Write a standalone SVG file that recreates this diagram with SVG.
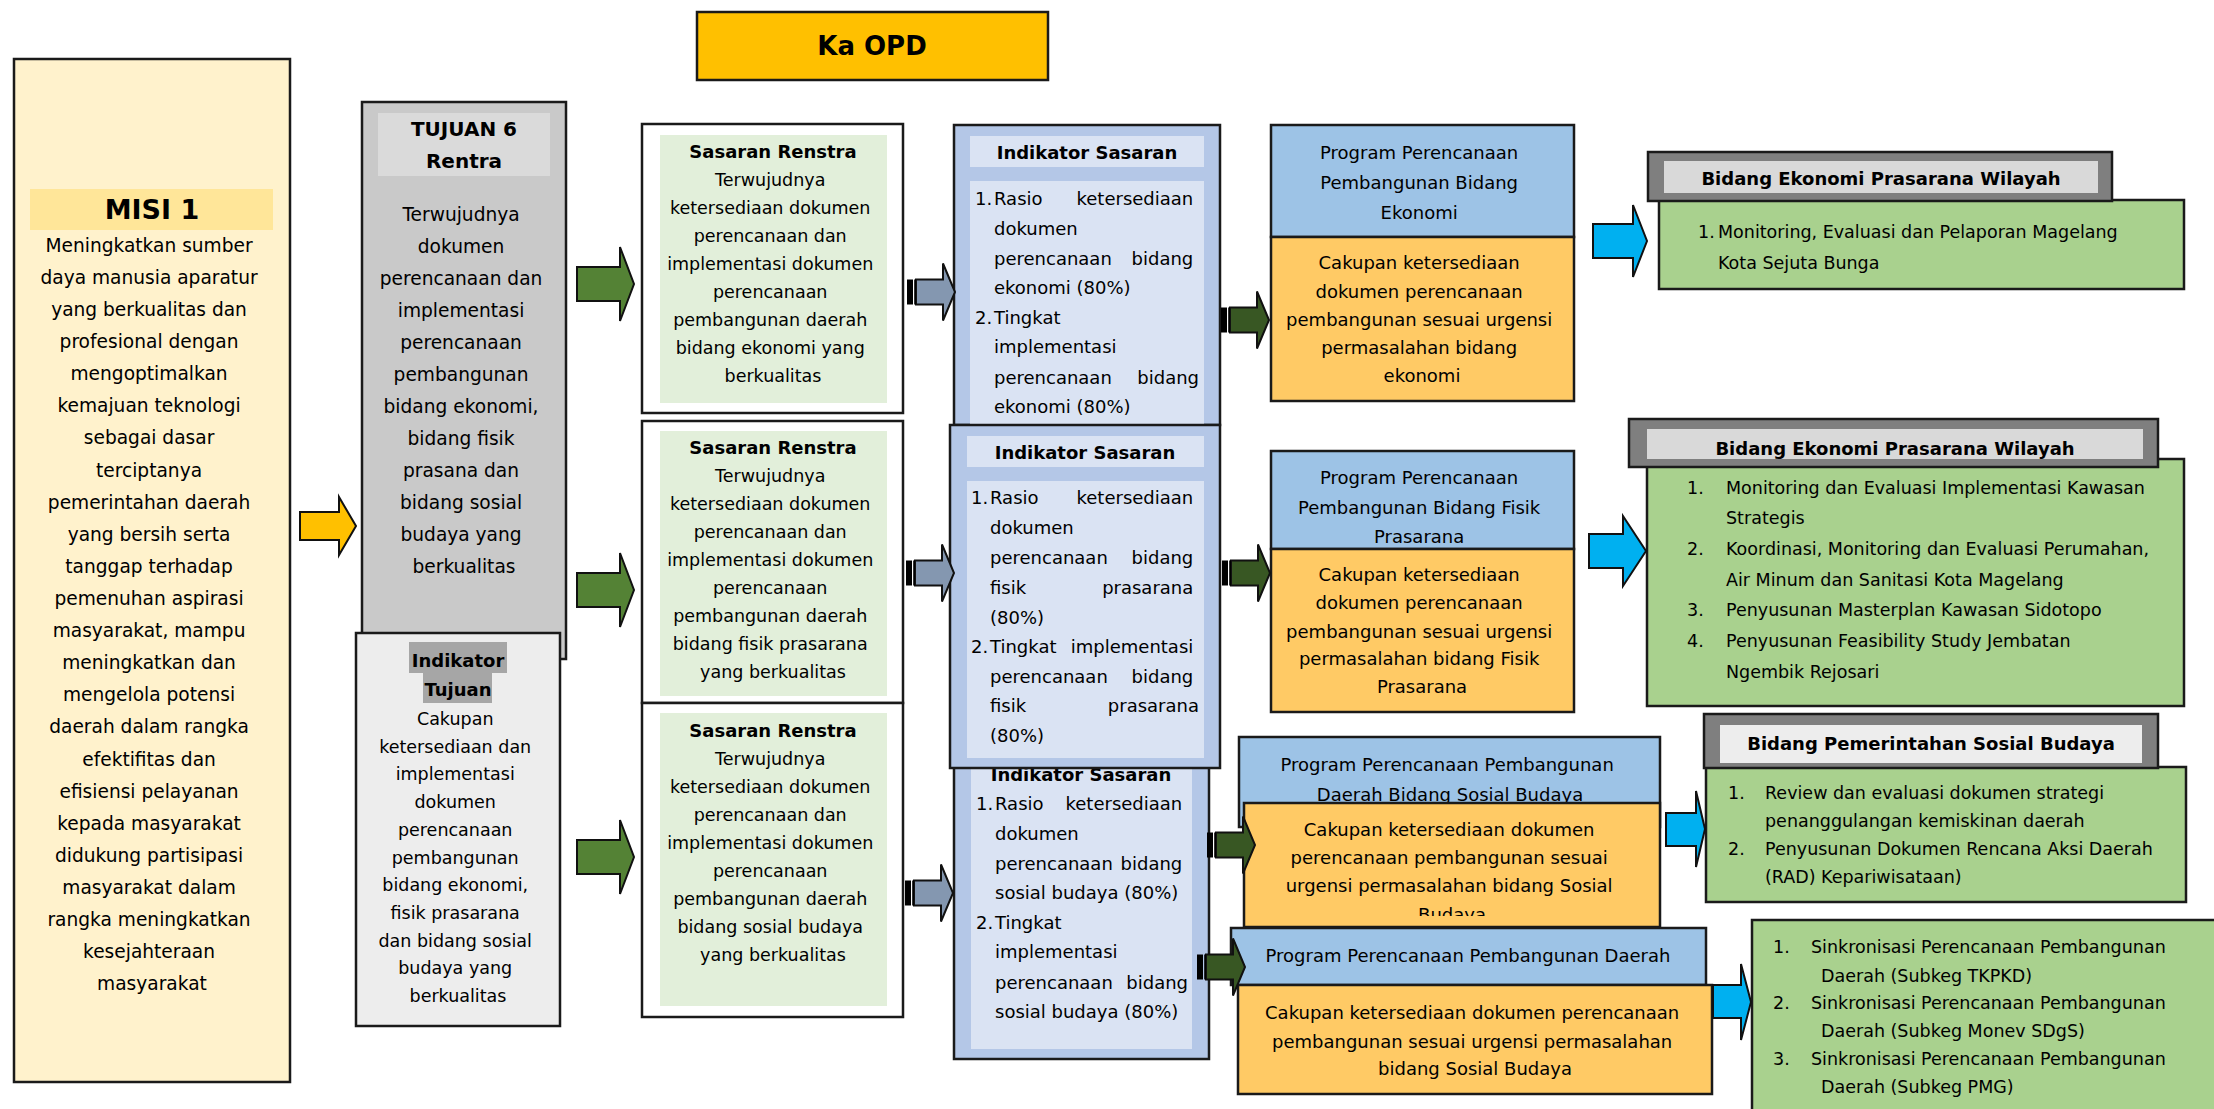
<svg xmlns="http://www.w3.org/2000/svg" width="2214" height="1109" viewBox="0 0 2214 1109">
<defs>
<style>
text{font-family:"DejaVu Sans","Liberation Sans",sans-serif;fill:#000}
.bx{stroke:#1a1a1a;stroke-width:2.5}
.c{text-anchor:middle}
.e{text-anchor:end}
.b{font-weight:bold}
.s175{font-size:17.5px}
.s18{font-size:18px}
.s185{font-size:18.6px}
.arr{stroke:#111;stroke-width:2}
</style>
<g id="bigArrow"><polygon points="0,-17 43,-17 43,-37 57,0 43,37 43,17 0,17"/></g>
<g id="stripeArrow">
<polygon points="9,-12.5 36,-12.5 36,-28.5 48,0 36,28.5 36,12.5 9,12.5"/>
<rect x="0" y="-12.5" width="6" height="25" fill="#000" stroke="none"/>
<rect x="7.2" y="-12.5" width="1.8" height="25" fill="#000" stroke="none"/>
</g>
<clipPath id="clipP3"><rect x="1244" y="803" width="416" height="113"/></clipPath>
</defs>
<rect width="2214" height="1109" fill="#fff"/>

<g id="ka-opd">
<rect class="bx" x="697" y="12" width="351" height="68" fill="#FFC000"/>
<text class="c b" x="872" y="55" font-size="26">Ka OPD</text>
</g>

<g id="misi">
<rect class="bx" x="14" y="59" width="276" height="1023" fill="#FFF2CC"/>
<rect x="30" y="189" width="243" height="41" fill="#FFE699"/>
<text class="c b" x="152" y="219" font-size="27">MISI 1</text>
<text class="c s185">
<tspan x="152" y="252">Meningkatkan sumber</tspan>
<tspan x="152" y="284">daya manusia aparatur</tspan>
<tspan x="152" y="316">yang berkualitas dan</tspan>
<tspan x="152" y="348">profesional dengan</tspan>
<tspan x="152" y="380">mengoptimalkan</tspan>
<tspan x="152" y="412">kemajuan teknologi</tspan>
<tspan x="152" y="444">sebagai dasar</tspan>
<tspan x="152" y="477">terciptanya</tspan>
<tspan x="152" y="509">pemerintahan daerah</tspan>
<tspan x="152" y="541">yang bersih serta</tspan>
<tspan x="152" y="573">tanggap terhadap</tspan>
<tspan x="152" y="605">pemenuhan aspirasi</tspan>
<tspan x="152" y="637">masyarakat, mampu</tspan>
<tspan x="152" y="669">meningkatkan dan</tspan>
<tspan x="152" y="701">mengelola potensi</tspan>
<tspan x="152" y="733">daerah dalam rangka</tspan>
<tspan x="152" y="766">efektifitas dan</tspan>
<tspan x="152" y="798">efisiensi pelayanan</tspan>
<tspan x="152" y="830">kepada masyarakat</tspan>
<tspan x="152" y="862">didukung partisipasi</tspan>
<tspan x="152" y="894">masyarakat dalam</tspan>
<tspan x="152" y="926">rangka meningkatkan</tspan>
<tspan x="152" y="958">kesejahteraan</tspan>
<tspan x="152" y="990">masyarakat</tspan>
</text>
</g>

<g id="tujuan">
<rect class="bx" x="362" y="102" width="204" height="557" fill="#C9C9C9"/>
<rect x="378" y="113" width="172" height="63" fill="#DADADA"/>
<text class="c b" x="464" y="136" font-size="20">TUJUAN 6</text>
<text class="c b" x="464" y="168" font-size="20">Rentra</text>
<text class="c s185">
<tspan x="464" y="221">Terwujudnya</tspan>
<tspan x="464" y="253">dokumen</tspan>
<tspan x="464" y="285">perencanaan dan</tspan>
<tspan x="464" y="317">implementasi</tspan>
<tspan x="464" y="349">perencanaan</tspan>
<tspan x="464" y="381">pembangunan</tspan>
<tspan x="464" y="413">bidang ekonomi,</tspan>
<tspan x="464" y="445">bidang fisik</tspan>
<tspan x="464" y="477">prasana dan</tspan>
<tspan x="464" y="509">bidang sosial</tspan>
<tspan x="464" y="541">budaya yang</tspan>
<tspan x="464" y="573">berkualitas</tspan>
</text>
</g>

<g id="indikator-tujuan">
<rect class="bx" x="356" y="633" width="204" height="393" fill="#EDEDED"/>
<rect x="409" y="642" width="98" height="31" fill="#A6A6A6"/>
<rect x="423" y="673" width="69" height="30" fill="#A6A6A6"/>
<text class="c b s18" x="458" y="667">Indikator</text>
<text class="c b s18" x="458" y="696">Tujuan</text>
<text class="c s175">
<tspan x="458" y="725">Cakupan</tspan>
<tspan x="458" y="753">ketersediaan dan</tspan>
<tspan x="458" y="780">implementasi</tspan>
<tspan x="458" y="808">dokumen</tspan>
<tspan x="458" y="836">perencanaan</tspan>
<tspan x="458" y="864">pembangunan</tspan>
<tspan x="458" y="891">bidang ekonomi,</tspan>
<tspan x="458" y="919">fisik prasarana</tspan>
<tspan x="458" y="947">dan bidang sosial</tspan>
<tspan x="458" y="974">budaya yang</tspan>
<tspan x="458" y="1002">berkualitas</tspan>
</text>
</g>

<g id="sasaran-1">
<rect class="bx" x="642" y="124" width="261" height="289" fill="#fff"/>
<rect x="660" y="135" width="227" height="268" fill="#E2EFDA"/>
<text class="c b s18" x="773" y="158">Sasaran Renstra</text>
<text class="c s175">
<tspan x="773" y="186">Terwujudnya</tspan>
<tspan x="773" y="214">ketersediaan dokumen</tspan>
<tspan x="773" y="242">perencanaan dan</tspan>
<tspan x="773" y="270">implementasi dokumen</tspan>
<tspan x="773" y="298">perencanaan</tspan>
<tspan x="773" y="326">pembangunan daerah</tspan>
<tspan x="773" y="354">bidang ekonomi  yang</tspan>
<tspan x="773" y="382">berkualitas</tspan>
</text>
</g>

<g id="sasaran-2">
<rect class="bx" x="642" y="421" width="261" height="282" fill="#fff"/>
<rect x="660" y="431" width="227" height="265" fill="#E2EFDA"/>
<text class="c b s18" x="773" y="454">Sasaran Renstra</text>
<text class="c s175">
<tspan x="773" y="482">Terwujudnya</tspan>
<tspan x="773" y="510">ketersediaan dokumen</tspan>
<tspan x="773" y="538">perencanaan dan</tspan>
<tspan x="773" y="566">implementasi dokumen</tspan>
<tspan x="773" y="594">perencanaan</tspan>
<tspan x="773" y="622">pembangunan daerah</tspan>
<tspan x="773" y="650">bidang fisik prasarana</tspan>
<tspan x="773" y="678">yang berkualitas</tspan>
</text>
</g>

<g id="sasaran-3">
<rect class="bx" x="642" y="703" width="261" height="314" fill="#fff"/>
<rect x="660" y="713" width="227" height="293" fill="#E2EFDA"/>
<text class="c b s18" x="773" y="737">Sasaran Renstra</text>
<text class="c s175">
<tspan x="773" y="765">Terwujudnya</tspan>
<tspan x="773" y="793">ketersediaan dokumen</tspan>
<tspan x="773" y="821">perencanaan dan</tspan>
<tspan x="773" y="849">implementasi dokumen</tspan>
<tspan x="773" y="877">perencanaan</tspan>
<tspan x="773" y="905">pembangunan daerah</tspan>
<tspan x="773" y="933">bidang sosial budaya</tspan>
<tspan x="773" y="961">yang berkualitas</tspan>
</text>
</g>

<g id="indikator-sasaran-1">
<rect class="bx" x="954" y="125" width="266" height="300" fill="#B4C7E7"/>
<rect x="970" y="136" width="234" height="31" fill="#DAE3F3"/>
<rect x="970" y="181" width="234" height="244" fill="#DAE3F3"/>
<text class="c b s18" x="1087" y="159">Indikator Sasaran</text>
<text class="s18">
<tspan x="975" y="205">1.</tspan><tspan x="994" y="205">Rasio</tspan>
<tspan x="994" y="235">dokumen</tspan>
<tspan x="994" y="265">perencanaan</tspan>
<tspan x="994" y="294">ekonomi (80%)</tspan>
<tspan x="975" y="324">2.</tspan><tspan x="994" y="324">Tingkat</tspan>
<tspan x="994" y="353">implementasi</tspan>
<tspan x="994" y="384">perencanaan</tspan>
<tspan x="994" y="413">ekonomi (80%)</tspan>
</text>
<text class="s18 e">
<tspan x="1199" y="205">ketersediaan</tspan>
<tspan x="1199" y="265">bidang</tspan>
<tspan x="1199" y="384">bidang</tspan>
</text>
</g>

<g id="indikator-sasaran-3">
<rect class="bx" x="954" y="760" width="255" height="299" fill="#B4C7E7"/>
<rect x="971" y="764" width="221" height="285" fill="#DAE3F3"/>
<text class="c b s18" x="1081" y="781">Indikator Sasaran</text>
<text class="s18">
<tspan x="976" y="810">1.</tspan><tspan x="995" y="810">Rasio</tspan>
<tspan x="995" y="840">dokumen</tspan>
<tspan x="995" y="870">perencanaan</tspan>
<tspan x="995" y="899">sosial budaya (80%)</tspan>
<tspan x="976" y="929">2.</tspan><tspan x="995" y="929">Tingkat</tspan>
<tspan x="995" y="958">implementasi</tspan>
<tspan x="995" y="989">perencanaan</tspan>
<tspan x="995" y="1018">sosial budaya (80%)</tspan>
</text>
<text class="s18 e">
<tspan x="1188" y="810">ketersediaan</tspan>
<tspan x="1188" y="870">bidang</tspan>
<tspan x="1188" y="989">bidang</tspan>
</text>
</g>

<g id="indikator-sasaran-2">
<rect class="bx" x="950" y="425" width="270" height="343" fill="#B4C7E7"/>
<rect x="967" y="436" width="237" height="31" fill="#DAE3F3"/>
<rect x="967" y="481" width="237" height="277" fill="#DAE3F3"/>
<text class="c b s18" x="1085" y="459">Indikator Sasaran</text>
<text class="s18">
<tspan x="971" y="504">1.</tspan><tspan x="990" y="504">Rasio</tspan>
<tspan x="990" y="534">dokumen</tspan>
<tspan x="990" y="564">perencanaan</tspan>
<tspan x="990" y="594">fisik</tspan>
<tspan x="990" y="624">(80%)</tspan>
<tspan x="971" y="653">2.</tspan><tspan x="990" y="653">Tingkat</tspan>
<tspan x="990" y="683">perencanaan</tspan>
<tspan x="990" y="712">fisik</tspan>
<tspan x="990" y="742">(80%)</tspan>
</text>
<text class="s18 e">
<tspan x="1199" y="504">ketersediaan</tspan>
<tspan x="1199" y="564">bidang</tspan>
<tspan x="1199" y="594">prasarana</tspan>
<tspan x="1199" y="653">implementasi</tspan>
<tspan x="1199" y="683">bidang</tspan>
<tspan x="1199" y="712">prasarana</tspan>
</text>
</g>

<g id="program-1">
<rect class="bx" x="1271" y="125" width="303" height="112" fill="#9DC3E6"/>
<rect class="bx" x="1271" y="237" width="303" height="164" fill="#FFCA65"/>
<text class="c s18">
<tspan x="1422" y="159">Program Perencanaan</tspan>
<tspan x="1422" y="189">Pembangunan  Bidang</tspan>
<tspan x="1422" y="219">Ekonomi</tspan>
<tspan x="1422" y="269">Cakupan ketersediaan</tspan>
<tspan x="1422" y="298">dokumen  perencanaan</tspan>
<tspan x="1422" y="326">pembangunan sesuai urgensi</tspan>
<tspan x="1422" y="354">permasalahan  bidang</tspan>
<tspan x="1422" y="382">ekonomi</tspan>
</text>
</g>

<g id="program-2">
<rect class="bx" x="1271" y="451" width="303" height="98" fill="#9DC3E6"/>
<rect class="bx" x="1271" y="549" width="303" height="163" fill="#FFCA65"/>
<text class="c s18">
<tspan x="1422" y="484">Program Perencanaan</tspan>
<tspan x="1422" y="514">Pembangunan  Bidang Fisik</tspan>
<tspan x="1422" y="543">Prasarana</tspan>
<tspan x="1422" y="581">Cakupan ketersediaan</tspan>
<tspan x="1422" y="609">dokumen  perencanaan</tspan>
<tspan x="1422" y="638">pembangunan sesuai urgensi</tspan>
<tspan x="1422" y="665">permasalahan  bidang Fisik</tspan>
<tspan x="1422" y="693">Prasarana</tspan>
</text>
</g>

<g id="program-3">
<rect class="bx" x="1239" y="737" width="421" height="90" fill="#9DC3E6"/>
<text class="c s18">
<tspan x="1450" y="771">Program Perencanaan Pembangunan</tspan>
<tspan x="1450" y="801">Daerah Bidang Sosial Budaya</tspan>
</text>
<rect class="bx" x="1244" y="803" width="416" height="124" fill="#FFCA65"/>
<text class="c s18" clip-path="url(#clipP3)">
<tspan x="1452" y="836">Cakupan ketersediaan dokumen</tspan>
<tspan x="1452" y="864">perencanaan pembangunan sesuai</tspan>
<tspan x="1452" y="892">urgensi permasalahan  bidang Sosial</tspan>
<tspan x="1452" y="921">Budaya</tspan>
</text>
</g>

<g id="program-4">
<rect class="bx" x="1231" y="928" width="475" height="57" fill="#9DC3E6"/>
<text class="c s18" x="1468" y="962">Program Perencanaan Pembangunan  Daerah</text>
<rect class="bx" x="1238" y="985" width="474" height="109" fill="#FFCA65"/>
<text class="c s18">
<tspan x="1475" y="1019">Cakupan ketersediaan dokumen  perencanaan</tspan>
<tspan x="1475" y="1048">pembangunan sesuai urgensi permasalahan</tspan>
<tspan x="1475" y="1075">bidang Sosial Budaya</tspan>
</text>
</g>

<g id="bidang-1">
<rect class="bx" x="1659" y="200" width="525" height="89" fill="#A9D18E"/>
<rect class="bx" x="1648" y="152" width="464" height="49" fill="#7F7F7F"/>
<rect x="1664" y="161" width="434" height="32" fill="#D9D9D9"/>
<text class="c b s18" x="1881" y="185">Bidang Ekonomi Prasarana Wilayah</text>
<text class="s175">
<tspan x="1698" y="238">1.</tspan><tspan x="1718" y="238">Monitoring, Evaluasi dan Pelaporan Magelang</tspan>
<tspan x="1718" y="269">Kota Sejuta Bunga</tspan>
</text>
</g>

<g id="bidang-2">
<rect class="bx" x="1647" y="459" width="537" height="247" fill="#A9D18E"/>
<rect class="bx" x="1629" y="419" width="529" height="48" fill="#7F7F7F"/>
<rect x="1647" y="429" width="496" height="30" fill="#D9D9D9"/>
<text class="c b s18" x="1895" y="455">Bidang Ekonomi Prasarana Wilayah</text>
<text class="s175">
<tspan x="1687" y="494">1.</tspan><tspan x="1726" y="494">Monitoring dan Evaluasi Implementasi Kawasan</tspan>
<tspan x="1726" y="524">Strategis</tspan>
<tspan x="1687" y="555">2.</tspan><tspan x="1726" y="555">Koordinasi, Monitoring dan Evaluasi Perumahan,</tspan>
<tspan x="1726" y="586">Air Minum dan Sanitasi Kota Magelang</tspan>
<tspan x="1687" y="616">3.</tspan><tspan x="1726" y="616">Penyusunan Masterplan Kawasan Sidotopo</tspan>
<tspan x="1687" y="647">4.</tspan><tspan x="1726" y="647">Penyusunan Feasibility Study Jembatan</tspan>
<tspan x="1726" y="678">Ngembik Rejosari</tspan>
</text>
</g>

<g id="bidang-3">
<rect class="bx" x="1706" y="767" width="480" height="135" fill="#A9D18E"/>
<rect class="bx" x="1704" y="714" width="454" height="54" fill="#7F7F7F"/>
<rect x="1720" y="725" width="422" height="38" fill="#EDEDED"/>
<text class="c b s18" x="1931" y="750">Bidang Pemerintahan Sosial Budaya</text>
<text class="s175">
<tspan x="1728" y="799">1.</tspan><tspan x="1765" y="799">Review dan evaluasi dokumen strategi</tspan>
<tspan x="1765" y="827">penanggulangan kemiskinan daerah</tspan>
<tspan x="1728" y="855">2.</tspan><tspan x="1765" y="855">Penyusunan Dokumen Rencana Aksi Daerah</tspan>
<tspan x="1765" y="883">(RAD) Kepariwisataan)</tspan>
</text>
</g>

<g id="bidang-4">
<rect class="bx" x="1752" y="920" width="475" height="200" fill="#A9D18E"/>
<text class="s175">
<tspan x="1773" y="953">1.</tspan><tspan x="1811" y="953">Sinkronisasi Perencanaan Pembangunan</tspan>
<tspan x="1821" y="982">Daerah (Subkeg TKPKD)</tspan>
<tspan x="1773" y="1009">2.</tspan><tspan x="1811" y="1009">Sinkronisasi Perencanaan Pembangunan</tspan>
<tspan x="1821" y="1037">Daerah (Subkeg Monev SDgS)</tspan>
<tspan x="1773" y="1065">3.</tspan><tspan x="1811" y="1065">Sinkronisasi Perencanaan Pembangunan</tspan>
<tspan x="1821" y="1093">Daerah (Subkeg PMG)</tspan>
</text>
</g>

<g id="connectors" class="arr">
<polygon points="300,512 339,512 339,497 356,526 339,555 339,540 300,540" fill="#FFC000"/>
<use href="#bigArrow" x="577" y="284" fill="#548235"/>
<use href="#bigArrow" x="577" y="590" fill="#548235"/>
<use href="#bigArrow" x="577" y="857" fill="#548235"/>
<use href="#stripeArrow" x="907" y="292" fill="#8497B0"/>
<use href="#stripeArrow" x="906" y="573" fill="#8497B0"/>
<use href="#stripeArrow" x="905" y="893" fill="#8497B0"/>
<use href="#stripeArrow" x="1221" y="320" fill="#385723"/>
<use href="#stripeArrow" x="1222" y="573" fill="#385723"/>
<use href="#stripeArrow" x="1207" y="845" fill="#385723"/>
<use href="#stripeArrow" x="1197" y="967" fill="#385723"/>
<polygon points="1593,224 1633,224 1633,205 1647,241 1633,277 1633,258 1593,258" fill="#00B0F0"/>
<polygon points="1589,534 1623,534 1623,516 1646,551 1623,586 1623,568 1589,568" fill="#00B0F0"/>
<polygon points="1666,813 1696,813 1696,791 1705,829 1696,867 1696,846 1666,846" fill="#00B0F0"/>
<polygon points="1713,985 1741,985 1741,964 1751,1002 1741,1040 1741,1018 1713,1018" fill="#00B0F0"/>
</g>
</svg>
